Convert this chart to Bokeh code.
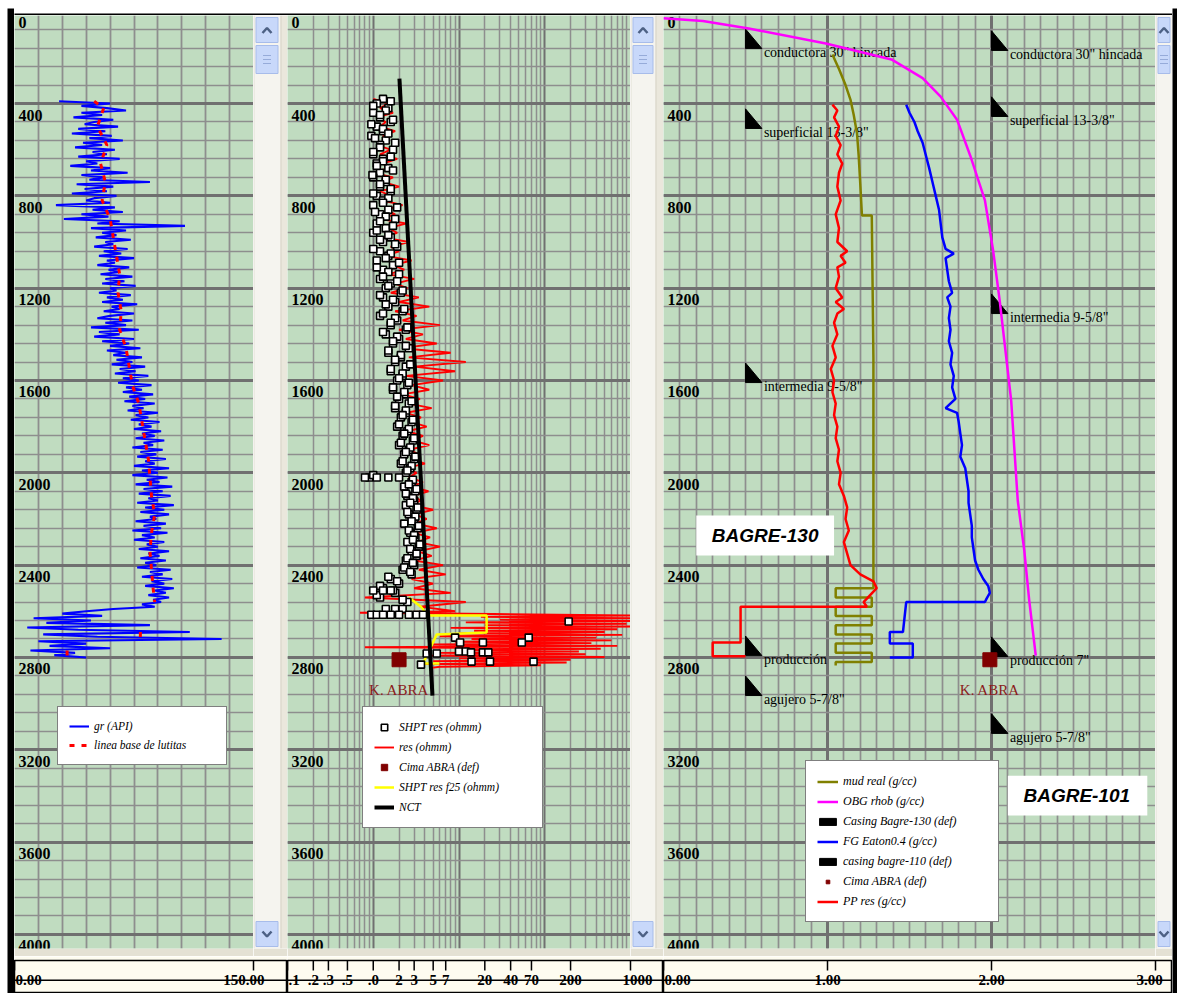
import math
import numpy as np
from bokeh.plotting import figure
from bokeh.layouts import row, column
from bokeh.models import (Range1d, FixedTicker, SingleIntervalTicker, Legend, LegendItem,
                          Label, BoxAnnotation, Span)
from bokeh.core.properties import value
from bokeh.core.validation import silence
from bokeh.core.validation.warnings import MISSING_RENDERERS
from bokeh.embed import file_html
from bokeh.resources import INLINE

silence(MISSING_RENDERERS, True)
NAN = float("nan")

# ======================= DATA =======================
depth_ticks = [0, 400, 800, 1200, 1600, 2000, 2400, 2800, 3200, 3600, 4000]

# --- track 1 : gamma ray (API), sampled every 10 m from 390 m
gr_start, gr_step = 390, 10
gr_api = [
    28, 60, 42, 58,
    70, 42, 55, 37, 62, 50, 44, 65, 40, 57,
    36, 61, 47, 68, 43, 55, 38, 63, 49, 58,
    40, 66, 45, 52, 35, 60, 48, 71, 42, 56,
    47, 85, 39, 62, 44, 58, 36, 64, 50, 45,
    60, 26, 63, 49, 68, 42, 59, 31, 66, 52,
    107, 48, 70, 55, 64, 51, 73, 57, 62, 50,
    71, 56, 67, 53, 75, 58, 63, 52, 72, 59,
    66, 54, 74, 57, 69, 55, 76, 60, 64, 53,
    73, 58, 68, 55, 77, 61, 66, 56, 75, 60,
    52, 74, 57, 70, 48, 78, 53, 66, 50, 75,
    55, 72, 60, 79, 58, 70, 62, 80, 64, 74,
    61, 82, 66, 76, 63, 84, 68, 78, 65, 86,
    70, 80, 68, 87, 72, 82, 69, 88, 74, 81,
    71, 90, 76, 84, 73, 91, 78, 86, 75, 92,
    80, 88, 76, 94, 81, 87, 74, 93, 79, 89,
    77, 95, 82, 88, 75, 97, 80, 90, 74, 96,
    83, 91, 76, 99, 81, 93, 78, 98, 84, 90,
    77, 100, 82, 94, 79, 97, 85, 89, 76, 95,
    81, 92, 74, 96, 80, 88, 75, 94, 83, 90,
    78, 97, 84, 91, 79, 95, 82, 89, 77, 98,
    85, 93, 80, 99, 86, 94, 82, 100, 88, 95,
    84, 97, 87, 92, 80, 88, 62, 45, 30, 55,
    12, 48, 20, 85, 8, 40, 110, 18, 52, 130,
    15, 45, 22, 60, 10, 38, 25, 45,
]
base_depth = [390, 420, 500, 580, 660, 740, 820, 900, 980, 1060, 1140, 1220, 1300, 1380,
              1460, 1540, 1620, 1700, 1780, 1860, 1940, 2020, 2100, 2180, 2260, 2340, 2420,
              2500, 2560, NAN, 2690, 2720, NAN, 2770, 2800]
base_api = [50, 56, 52, 58, 54, 57, 55, 60, 62, 64, 66, 65, 67, 66,
            70, 72, 74, 78, 80, 82, 84, 85, 86, 88, 86, 85, 86,
            87, 88, NAN, 79, 79, NAN, 33, 33]

# --- track 2 : resistivity (ohmm)
res_start, res_step = 380, 20
res_main = [
    1.0, 1.5, 1.2, 1.7, 1.1, 1.4, 1.2, 1.8,
    1.3, 1.5, 1.1, 1.6, 1.2, 1.9, 1.3, 1.5, 1.0, 1.7,
    1.3, 2.0, 1.2, 1.6, 1.3, 2.2, 1.4, 1.8, 1.2, 2.4,
    1.5, 1.9, 1.3, 2.6, 1.6, 2.0, 1.4, 2.8, 1.7, 2.3,
    1.5, 3.0, 1.8, 2.5, 1.6, 3.4, 2.0, 4.5, 1.8, 3.2,
    2.2, 6.0, 2.0, 3.8, 2.4, 5.5, 2.2, 8.0, 2.6, 12.0,
    3.0, 9.0, 2.4, 6.5, 2.8, 4.5, 2.2, 3.5, 2.6, 4.8,
    2.4, 3.6, 2.8, 4.2, 2.5, 3.8, 2.9, 4.5, 2.6, 3.4,
    2.8, 4.0, 2.4, 3.2, 2.6, 3.8, 2.7, 4.4, 2.9, 3.6,
    2.8, 5.0, 3.0, 4.2, 3.1, 5.5, 3.0, 4.6, 3.2, 6.0,
    3.3, 4.8, 3.0, 6.5, 3.4, 7.0, 2.8, 5.0, 3.0, 8.0,
    0.8, 12.0, 3.5,
]
res_zone_depth = [2600, 2606, 2612, 2618, 2624, 2630, 2636, 2642, 2648, 2654,
                  2660, 2666, 2672, 2678, 2684, 2690, 2696, 2702, 2708, 2714,
                  2720, 2726, 2732, 2738, 2744, 2750, 2756, 2762, 2768, 2774,
                  2780, 2786, 2792, 2798, 2804, 2810, 2816, 2822, 2828, 2834,
                  2840, 2846]
res_zone = [9, 0.7, 25, 1000, 18, 1000, 30, 1000, 12, 900,
            20, 1000, 8, 700, 15, 500, 10, 800, 6, 400,
            14, 600, 9, 350, 5, 700, 0.8, 450, 12, 250,
            6, 300, 4, 500, 10, 200, 5, 180, 4, 90,
            6, 4.5]

# SHPT pressure-test resistivities: two interleaved runs every 20 m
shpt_start, shpt_step = 380, 20
shpt_main = [
    1.3, 1.1, 1.5, 1.0, 1.2, 1.6, 1.1, 1.3,
    0.95, 1.4, 1.2, 1.7, 1.0, 1.3, 1.1, 1.5, 1.2, 1.0,
    1.4, 1.2, 1.6, 1.1, 1.3, 1.0, 1.5, 1.2, 1.8, 1.1,
    1.4, 1.0, 1.6, 1.3, 1.9, 1.2, 1.5, 1.1, 1.7, 1.3,
    2.0, 1.2, 1.6, 1.4, 2.1, 1.3, 1.8, 1.5, 2.2, 1.2,
    1.9, 1.6, 2.4, 1.4, 2.0, 1.7, 2.6, 1.5, 2.1, 1.8,
    2.4, 1.6, 2.2, 1.9, 2.5, 1.7, 2.3, 2.0, 2.6, 1.8,
    2.4, 2.1, 2.8, 1.9, 2.5, 2.2, 2.9, 2.0, 2.6, 2.3,
    3.0, 2.1, 2.7, 2.4, 0.9, 2.8, 2.3, 3.1, 2.5, 3.0,
    2.4, 3.2, 2.6, 3.0, 2.3, 3.3, 2.7, 3.1, 2.5, 3.4,
    2.8, 3.2, 2.4, 3.0, 2.2, 2.8, 1.6, 2.0, 1.3, 1.8,
    1.2, 2.5,
]
shpt_b_start, shpt_b_step = 390, 20
shpt_b = [
    1.6, 1.0, 1.4, 1.2, 1.7, 0.95, 1.3, 1.5, 1.05, 1.8,
    1.2, 1.0, 1.6, 1.3, 1.1, 1.7, 0.98, 1.4, 1.2, 1.6,
    1.0, 1.5, 1.3, 1.9, 1.05, 1.4, 1.2, 1.7, 1.1, 1.5,
    1.2, 1.8, 1.0, 1.6, 1.4, 2.0, 1.1, 1.5, 1.3, 1.9,
    1.5, 2.2, 1.2, 1.7, 1.4, 2.3, 1.3, 1.8, 1.6, 2.5,
    1.3, 1.9, 1.7, 2.4, 1.5, 2.1, 1.8, 2.7, 1.6, 2.2,
    2.0, 2.6, 1.7, 2.3, 1.9, 2.8, 1.8, 2.4, 2.2, 2.9,
    2.0, 2.6, 2.3, 3.0, 2.1, 2.7, 2.4, 3.1, 2.2, 2.8,
    2.5, 1.0, 2.9, 2.6, 3.2, 2.4, 2.9, 2.7, 3.3, 2.5,
    3.1, 2.8, 3.4, 2.6, 3.0, 2.9, 3.5, 2.7, 3.2, 2.5,
    2.9, 2.3, 2.7, 1.5, 1.9, 1.2, 1.7, 1.1, 2.2,
]
shpt_extra_depth = [2020, 2020, 2020, 2020, 2510, 2510, 2510, 2590, 2590, 2590,
                    2615, 2615, 2615, 2615, 2615, 2615, 2615, 2615, 2644, 2714,
                    2714, 2735, 2735, 2735, 2774, 2774, 2778, 2778, 2778, 2783,
                    2783, 2818, 2818, 2818, 2831]
shpt_extra = [0.8, 1.1, 1.5, 2.0, 1.0, 1.3, 1.6, 1.4, 1.8, 2.2,
              0.95, 1.1, 1.3, 1.6, 2.0, 2.6, 3.2, 3.8, 190, 9.0,
              65, 10.3, 19, 54, 10, 12, 13.8, 19, 22, 4.2,
              5.5, 14, 23, 74, 3.6]

f25_depth = [2540, 2580, 2618, 2618, 2692, 2700, 2826, 2826]
f25_res = [2.6, 3.6, 4.3, 21, 21, 5.5, 3.8, 5.9]

nct_depth = [292, 2965]
nct_res = [2.02, 4.9]

abra_depth = [2810]
abra_res = [2.0]
abra_gcc = [1.99]
abra_label = "K. ABRA"

# --- track 3 : gradients (g/cc)
obg_depth = [30, 42, 75, 140, 209, 290, 370, 470, 625, 820, 1037, 1254, 1470, 1687,
             1903, 2120, 2337, 2553, 2792]
obg_gcc = [0.0, 0.24, 0.52, 0.99, 1.39, 1.58, 1.69, 1.79, 1.87, 1.96, 2.01, 2.05, 2.085,
           2.12, 2.14, 2.16, 2.20, 2.23, 2.27]

mud_depth = [188, 250, 320, 383, 450, 530, 625, 750, 885, 885,
             1500, 2500, 2500, 2540, 2540, 2580, 2580, 2620, 2620, 2660,
             2660, 2700, 2700, 2740, 2740, 2780, 2780, 2820, 2820, 2835]
mud_gcc = [1.03, 1.07, 1.11, 1.14, 1.16, 1.18, 1.19, 1.20, 1.21, 1.27,
           1.28, 1.28, 1.05, 1.05, 1.27, 1.27, 1.05, 1.05, 1.27, 1.27,
           1.05, 1.05, 1.27, 1.27, 1.05, 1.05, 1.27, 1.27, 1.05, 1.05]

fg_depth = [405, 440, 480, 520, 570, 625, 680, 740, 800, 860,
            920, 980, 1030, 1050, 1070, 1120, 1170, 1220, 1240, 1280,
            1330, 1380, 1430, 1480, 1530, 1580, 1630, 1680, 1720, 1740,
            1780, 1830, 1880, 1930, 1980, 2030, 2080, 2130, 2180, 2230,
            2280, 2330, 2380, 2420, 2460, 2490, 2520, 2545, 2560, 2560,
            2690, 2690, 2740, 2740, 2800, 2800]
fg_gcc = [1.48, 1.50, 1.53, 1.55, 1.58, 1.60, 1.62, 1.64, 1.66, 1.68,
          1.69, 1.70, 1.72, 1.77, 1.72, 1.73, 1.74, 1.76, 1.73, 1.75,
          1.74, 1.75, 1.74, 1.76, 1.75, 1.77, 1.76, 1.78, 1.72, 1.79,
          1.80, 1.81, 1.82, 1.81, 1.84, 1.85, 1.86, 1.86, 1.87, 1.88,
          1.88, 1.89, 1.90, 1.92, 1.95, 1.98, 1.99, 1.97, 1.96, 1.48,
          1.46, 1.38, 1.38, 1.52, 1.52, 1.38]

pp_depth = [405, 430, 460, 500, 540, 580, 620, 660, 700, 760,
            820, 880, 940, 1000, 1040, 1060, 1090, 1110, 1150, 1200,
            1240, 1260, 1290, 1310, 1350, 1400, 1450, 1500, 1550, 1600,
            1650, 1700, 1750, 1800, 1850, 1900, 1950, 2000, 2050, 2100,
            2150, 2200, 2250, 2300, 2350, 2400, 2440, 2470, 2500, 2530,
            2560, 2580, 2580, 2735, 2735, 2795, 2795]
pp_gcc = [1.03, 1.06, 1.04, 1.07, 1.05, 1.08, 1.06, 1.09, 1.07, 1.06,
          1.08, 1.05, 1.07, 1.06, 1.12, 1.08, 1.11, 1.06, 1.07, 1.05,
          1.09, 1.05, 1.10, 1.06, 1.04, 1.06, 1.03, 1.05, 1.02, 1.04,
          1.03, 1.05, 1.04, 1.06, 1.05, 1.07, 1.06, 1.08, 1.07, 1.10,
          1.12, 1.11, 1.13, 1.10, 1.12, 1.14, 1.20, 1.28, 1.30, 1.26,
          1.22, 1.24, 0.47, 0.47, 0.30, 0.30, 0.50]

casing130_x = 0.5
casing130_depth = [162, 508, 1609, 2792, 2965]
casing130_label = ['conductora 30" hincada', 'superficial 13-3/8"', 'intermedia 9-5/8"',
                   'producción', 'agujero 5-7/8"']
casing101_x = 2.0
casing101_depth = [170, 456, 1310, 2796, 3129]
casing101_label = ['conductora 30" hincada', 'superficial 13-3/8"', 'intermedia 9-5/8"',
                   'producción 7"', 'agujero 5-7/8"']

well_130 = "BAGRE-130"
well_101 = "BAGRE-101"

# bottom scales
gr_axis_ticks = [0, 150]
gr_axis_labels = ["0.00", "150.00"]
res_axis_ticks = [0.1, 0.2, 0.3, 0.5, 1, 2, 3, 5, 7, 20, 40, 70, 200, 1000]
res_axis_labels = [".1", ".2", ".3", ".5", ".0", "2", "3", "5", "7", "20", "40", "70", "200", "1000"]
gcc_axis_ticks = [0, 1, 2, 3]
gcc_axis_labels = ["0.00", "1.00", "2.00", "3.00"]

# ======================= STYLE / LAYOUT =======================
GREEN = "#C0DCC0"
GRID_MINOR = "#8E8E8E"
GRID_MAJOR = "#707070"
BAND = "#E4E1D4"
CREAM = "#FEFCF0"
SB_TRACK = "#F5F4EF"
SEP = "#EAE7DC"
BTN = "#C8D8FA"
BTN_LINE = "#A7BCEA"
ARROW = "#4D6185"
SERIF = "Liberation Serif"
SANS = "Liberation Sans"

WHITE_L, WHITE_T = 7, 8
BORDER_L, BORDER_R = 7, 5
TOP_H = 7
TRACK_H = 933
BAND_H = 8
AX_H = 37
W1, W2, W3 = 239, 343, 492
SB1, SB2, SB3 = 27, 25, 17
SEP1, SEP2 = 7, 8
D_TOP, D_BOT = 18.6, 4061.0
TRI_W, TRI_H = 0.1, 85
INNER_W = W1 + SB1 + SEP1 + W2 + SB2 + SEP2 + W3 + SB3
BODY_H = TOP_H + TRACK_H + BAND_H + AX_H
TOTAL_W = WHITE_L + BORDER_L + INNER_W + BORDER_R


def track(width, x_range, x_axis_type="linear"):
    p = figure(width=width, height=TRACK_H + BAND_H, x_range=x_range,
               y_range=Range1d(D_BOT, D_TOP), x_axis_type=x_axis_type,
               x_axis_location=None, y_axis_location=None, toolbar_location=None,
               output_backend="svg", min_border=0, min_border_bottom=BAND_H,
               background_fill_color=GREEN, border_fill_color=BAND, outline_line_color=None)
    p.ygrid.ticker = SingleIntervalTicker(interval=400, num_minor_ticks=5)
    p.ygrid.grid_line_color = GRID_MAJOR
    p.ygrid.grid_line_width = 3
    p.ygrid.minor_grid_line_color = GRID_MINOR
    p.ygrid.minor_grid_line_width = 1.7
    return p


def depth_labels(p, x0):
    p.text(x=[x0] * len(depth_ticks), y=depth_ticks, text=[str(d) for d in depth_ticks],
           text_font=value(SERIF), text_font_style="bold", text_font_size="16px",
           text_color="black", text_baseline="top", x_offset=4, y_offset=6)


def make_legend(p, items, loc, label_w, lh, sp, gw, gh, fs):
    leg = Legend(items=items, location=loc, orientation="vertical", margin=0, padding=11,
                 spacing=sp, label_height=lh, label_width=label_w, glyph_width=gw,
                 glyph_height=gh, label_standoff=5, label_text_font=SERIF,
                 label_text_font_style="italic", label_text_font_size=fs,
                 label_text_color="black", border_line_color="black", border_line_width=1.5,
                 background_fill_color="white", background_fill_alpha=1.0)
    p.add_layout(leg)


def scrollbar(bar_w, sep_w):
    w = bar_w + sep_w
    p = figure(width=w, height=TRACK_H + BAND_H, x_range=Range1d(0, w),
               y_range=Range1d(TRACK_H, 0), x_axis_location=None, y_axis_location=None,
               toolbar_location=None, output_backend="svg", min_border=0,
               min_border_bottom=BAND_H, background_fill_color=SB_TRACK,
               border_fill_color=BAND, outline_line_color=None)
    p.grid.visible = False
    if sep_w:
        p.quad(left=[bar_w], right=[w], top=[0], bottom=[TRACK_H], fill_color=SEP, line_color=None)
        p.segment(x0=[bar_w + 0.5], x1=[bar_w + 0.5], y0=[0], y1=[TRACK_H],
                  line_color="#D6D3C6", line_width=1)
    p.segment(x0=[0.5], x1=[0.5], y0=[0], y1=[TRACK_H], line_color="#E2E0D6", line_width=1)
    bl, br, cx = 2.5, bar_w - 2.5, bar_w / 2
    for t, b in [(2, 27), (30, 58), (TRACK_H - 27, TRACK_H - 2)]:
        p.quad(left=[bl], right=[br], top=[t], bottom=[b], fill_color=BTN,
               line_color=BTN_LINE, line_width=1)
    p.line([cx - 4.5, cx, cx + 4.5], [17.5, 12.5, 17.5], line_color=ARROW, line_width=2.5)
    yb = TRACK_H - 14.5
    p.line([cx - 4.5, cx, cx + 4.5], [yb - 2.5, yb + 2.5, yb - 2.5], line_color=ARROW, line_width=2.5)
    p.multi_line(xs=[[cx - 4, cx + 4]] * 3, ys=[[40, 40], [44, 44], [48, 48]],
                 line_color="#96ABD9", line_width=1)
    return p


def blank(w, h, color):
    p = figure(width=w, height=h, x_axis_location=None, y_axis_location=None,
               toolbar_location=None, output_backend="svg", min_border=0,
               background_fill_color=color, border_fill_color=color, outline_line_color=None)
    p.grid.visible = False
    return p


AX_LINE_Y = 0.4     # strike line position inside the scale box (fraction of box height)
AX_TICK_Y = 0.7     # lower end of the hanging ticks


def axis_fig(total_w, x_rng, log, ticks, labels, aligns, offsets):
    p = figure(width=total_w, height=AX_H, x_range=x_rng, y_range=Range1d(0, 1),
               x_axis_type="log" if log else "linear", x_axis_location=None,
               y_axis_location=None, toolbar_location=None, output_backend="svg",
               min_border=0, min_border_top=4,
               background_fill_color=CREAM, border_fill_color=CREAM,
               outline_line_color="black", outline_line_width=1.5)
    p.grid.visible = False
    p.add_layout(Span(location=AX_LINE_Y, dimension="width", line_color="black", line_width=1.5))
    p.segment(x0=ticks, x1=ticks, y0=[1] * len(ticks), y1=[AX_TICK_Y] * len(ticks),
              line_color="black", line_width=1.5)
    for t, lab, al, off in zip(ticks, labels, aligns, offsets):
        p.add_layout(Label(x=t, y=AX_LINE_Y, text=lab, text_align=al, x_offset=off,
                           text_baseline="middle", text_font=SERIF, text_font_style="bold",
                           text_font_size="15px", text_color="black"))
    return p


# ---------------- track 1 ----------------
t1 = track(W1, Range1d(0, 150))
t1.xgrid.ticker = SingleIntervalTicker(interval=15, num_minor_ticks=0)
t1.xgrid.grid_line_color = GRID_MINOR
t1.xgrid.grid_line_width = 1.8
depth_labels(t1, 0)
gr_depth = [gr_start + i * gr_step for i in range(len(gr_api))]
r_gr = t1.line(np.array(gr_api, float), np.array(gr_depth, float), line_color="#0000FF", line_width=2.1)
r_base = t1.line(np.array(base_api, float), np.array(base_depth, float), line_color="#FF0000",
                 line_width=3, line_dash="5 7")
make_legend(t1, [LegendItem(label="gr (API)", renderers=[r_gr]),
                 LegendItem(label="linea base de lutitas", renderers=[r_base])],
            (43, 183), 121, 16, 3, 20, 10, "11.5px")

# ---------------- track 2 ----------------
t2 = track(W2, Range1d(0.1, 1000), "log")
dec_ticks = [0.1, 1, 10, 100, 1000]
minor_log = [m * 10.0 ** e for e in range(-1, 3) for m in range(2, 10)]
t2.xgrid.ticker = FixedTicker(ticks=dec_ticks, minor_ticks=minor_log)
t2.xgrid.grid_line_color = GRID_MAJOR
t2.xgrid.grid_line_width = 2
t2.xgrid.minor_grid_line_color = GRID_MINOR
t2.xgrid.minor_grid_line_width = 1.5
depth_labels(t2, 0.1)
res_depth = [res_start + i * res_step for i in range(len(res_main))] + res_zone_depth
res_vals = res_main + res_zone
r_res = t2.line(res_vals, res_depth, line_color="#FF0000", line_width=1.9)
r_f25 = t2.line(f25_res, f25_depth, line_color="#FFFF00", line_width=2.5)
shpt_depth = ([shpt_start + i * shpt_step for i in range(len(shpt_main))]
              + [shpt_b_start + i * shpt_b_step for i in range(len(shpt_b))]
              + shpt_extra_depth)
shpt_vals = shpt_main + shpt_b + shpt_extra
r_shpt = t2.scatter(shpt_vals, shpt_depth, marker="square", size=7, fill_color="white",
                    line_color="black", line_width=1.6)
r_nct = t2.line(nct_res, nct_depth, line_color="black", line_width=4)
r_abra2 = t2.scatter(abra_res, abra_depth, marker="square", size=14, fill_color="#800000",
                     line_color="#800000")
t2.text(x=abra_res, y=abra_depth, text=[abra_label], text_font=value(SERIF),
        text_font_size="15px", text_color="#8B1C1C", text_align="center",
        text_baseline="middle", y_offset=30)
make_legend(t2, [LegendItem(label="SHPT res (ohmm)", renderers=[r_shpt]),
                 LegendItem(label="res (ohmm)", renderers=[r_res]),
                 LegendItem(label="Cima ABRA (def)", renderers=[r_abra2]),
                 LegendItem(label="SHPT res f25 (ohmm)", renderers=[r_f25]),
                 LegendItem(label="NCT", renderers=[r_nct])],
            (75, 120), 132, 18, 2, 20, 16, "11.5px")

# ---------------- track 3 ----------------
t3 = track(W3, Range1d(0, 3))
t3.xgrid.ticker = SingleIntervalTicker(interval=1, num_minor_ticks=10)
t3.xgrid.grid_line_color = GRID_MAJOR
t3.xgrid.grid_line_width = 3
t3.xgrid.minor_grid_line_color = GRID_MINOR
t3.xgrid.minor_grid_line_width = 1.7
depth_labels(t3, 0)

r_c130 = t3.patches([[casing130_x, casing130_x, casing130_x + TRI_W] for d in casing130_depth],
                    [[d - TRI_H, d, d] for d in casing130_depth],
                    fill_color="black", line_color="black")
r_c101 = t3.patches([[casing101_x, casing101_x, casing101_x + TRI_W] for d in casing101_depth],
                    [[d - TRI_H, d, d] for d in casing101_depth],
                    fill_color="black", line_color="black")
for cx_, dep, lab in [(casing130_x, casing130_depth, casing130_label),
                      (casing101_x, casing101_depth, casing101_label)]:
    t3.text(x=[cx_ + TRI_W] * len(dep), y=dep, text=lab, text_font=value(SERIF),
            text_font_size="14px", text_color="black", text_baseline="alphabetic",
            x_offset=2, y_offset=4)

r_mud = t3.line(mud_gcc, mud_depth, line_color="#808000", line_width=2.5)
r_obg = t3.line(obg_gcc, obg_depth, line_color="#FF00FF", line_width=2.5)
r_fg = t3.line(fg_gcc, fg_depth, line_color="#0000FF", line_width=2.5)
r_pp = t3.line(pp_gcc, pp_depth, line_color="#FF0000", line_width=2.5)
r_abra3 = t3.scatter(abra_gcc, abra_depth, marker="square", size=14, fill_color="#800000",
                     line_color="#800000")
t3.text(x=abra_gcc, y=abra_depth, text=[abra_label], text_font=value(SERIF),
        text_font_size="15px", text_color="#8B1C1C", text_align="center",
        text_baseline="middle", y_offset=30)

for (l, r, tp, bt, tx, ty, txt) in [(0.2, 1.04, 2185, 2358, 0.62, 2272, well_130),
                                     (2.10, 2.95, 3312, 3485, 2.52, 3398, well_101)]:
    t3.add_layout(BoxAnnotation(left=l, right=r, top=tp, bottom=bt, fill_color="white",
                                fill_alpha=1.0, line_color=None))
    t3.add_layout(Label(x=tx, y=ty, text=txt, text_align="center", text_baseline="middle",
                        text_font=SANS, text_font_style="bold italic", text_font_size="19px",
                        text_color="black"))

make_legend(t3, [LegendItem(label="mud real (g/cc)", renderers=[r_mud]),
                 LegendItem(label="OBG rhob (g/cc)", renderers=[r_obg]),
                 LegendItem(label="Casing Bagre-130 (def)", renderers=[r_c130]),
                 LegendItem(label="FG Eaton0.4 (g/cc)", renderers=[r_fg]),
                 LegendItem(label="casing bagre-110 (def)", renderers=[r_c101]),
                 LegendItem(label="Cima ABRA (def)", renderers=[r_abra3]),
                 LegendItem(label="PP res (g/cc)", renderers=[r_pp])],
            (142, 26), 144, 18, 2, 21, 9, "12px")

# ---------------- scrollbars ----------------
sb1 = scrollbar(SB1, SEP1)
sb2 = scrollbar(SB2, SEP2)
sb3 = scrollbar(SB3, 0)

# ---------------- bottom scales ----------------
aw1 = W1 + SB1 + SEP1
aw2 = W2 + SB2 + SEP2
aw3 = W3 + SB3
ax1 = axis_fig(aw1, Range1d(0, 150 * aw1 / W1), False, gr_axis_ticks, gr_axis_labels,
               ["left", "right"], [1, 11])
ax2 = axis_fig(aw2, Range1d(0.1, 10 ** (-1 + 4 * aw2 / W2)), True, res_axis_ticks,
               res_axis_labels, ["left"] + ["center"] * 13, [1] + [0] * 12 + [7])
ax3 = axis_fig(aw3, Range1d(0, 3 * aw3 / W3), False, gcc_axis_ticks, gcc_axis_labels,
               ["left", "center", "center", "center"], [1, 0, 0, -6])

white_top = blank(TOTAL_W, WHITE_T, "white")
white_left = blank(WHITE_L, BODY_H, "white")
left_border = blank(BORDER_L, BODY_H, "black")
right_border = blank(BORDER_R, BODY_H, "black")
top_bar = blank(INNER_W, TOP_H, "black")

root = column(white_top,
              row(white_left, left_border,
                  column(top_bar, row(t1, sb1, t2, sb2, t3, sb3), row(ax1, ax2, ax3)),
                  right_border))

open("out.html", "w").write(file_html(root, INLINE))
